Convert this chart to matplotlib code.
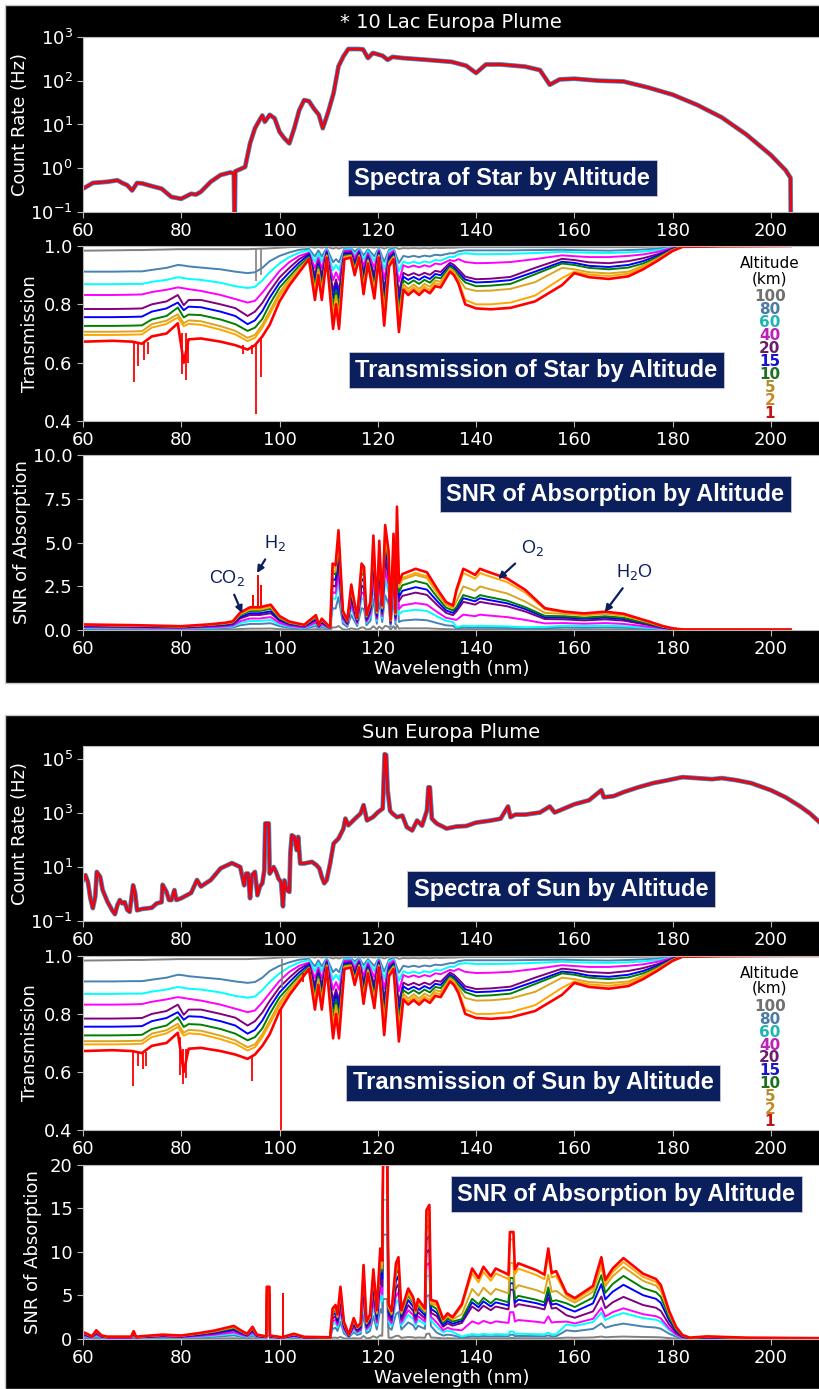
import matplotlib
matplotlib.use("Agg")
import matplotlib.pyplot as plt
from matplotlib.patches import Rectangle

# ---------------- data ----------------
ALT_KM = [100, 80, 60, 40, 20, 15, 10, 5, 2, 1]
LINE_COLORS = ['gray', 'steelblue', 'cyan', 'magenta', 'purple', 'blue',
               'green', 'goldenrod', 'orange', 'red']
TEXT_COLORS = ['#707070', '#4a7aa5', '#20b5b5', '#bb22bb', '#6b1f6b', '#1515d0',
               '#1f701f', '#b38b2a', '#c8871f', '#c01515']
NAVY = '#0b1f5c'

# star spectrum (count rate, Hz)
star_wl = [60, 62, 65, 67, 68, 69, 70, 71, 72, 74, 76, 78, 80, 82, 83, 84, 86, 88, 90, 90.7,
           90.8, 90.9, 91, 92, 93, 94, 95, 96, 96.5, 97, 98, 99, 100, 101, 102, 103, 104, 105, 106, 107,
           108, 108.8, 109.5, 110, 111, 112, 113, 114, 116, 117, 118, 119, 120, 121, 122, 123, 125, 130, 135, 138,
           140, 142, 145, 150, 153, 155, 157, 160, 165, 170, 175, 180, 185, 190, 195, 200, 203, 204, 204.05]
star_counts = [.34, .46, .49, .53, .46, .41, .31, .46, .45, .39, .34, .22, .20, .26, .25, .29, .49, .70, .80, .76,
               .09, .09, .85, .95, 1.07, 3.7, 8.2, 13, 16, 11.5, 16.6, 13.8, 6.8, 4.8, 3.7, 8.2, 21, 36, 34, 23,
               16.6, 8.2, 14, 21, 52, 213, 360, 530, 530, 520, 330, 430, 400, 370, 300, 350, 330, 300, 270, 220,
               150, 235, 235, 210, 175, 81, 107, 111, 100, 96, 70, 48, 28, 14.5, 5.9, 2.0, 0.9, 0.6, 0.09]

# sun spectrum (count rate, Hz)
sun_wl = [60, 60.5, 61, 61.5, 62, 62.5, 62.8, 63.5, 64, 65,
          66, 66.5, 67, 67.5, 68, 68.5, 69, 69.5, 70.2, 70.6,
          71, 72, 74, 75, 76, 76.2, 77, 77.5, 78, 78.6,
          79, 80, 82, 83.2, 84, 86, 88, 90.3, 92, 92.8,
          93.2, 93.6, 94.0, 94.4, 95, 95.5, 96, 96.5, 96.9, 97.1,
          97.8, 98, 98.8, 99.3, 99.8, 100.3, 100.7, 101, 101.5, 102,
          102.2, 102.5, 103, 103.5, 103.8, 104.2, 105, 106.6, 107.5, 108.1,
          108.6, 109.1, 109.6, 110.3, 111, 112, 113, 113.4, 114, 115.7,
          116.5, 117.1, 117.8, 119, 120.1, 121, 121.4, 121.7, 122, 122.5,
          123, 123.9, 125, 125.9, 127, 128, 129, 130, 130.3, 130.6,
          131, 132, 134, 136, 138, 140, 143, 145, 146.5, 147,
          148, 150, 153, 155, 156, 158, 160, 163, 165.5, 166,
          168, 170, 173, 176, 179, 182, 185, 188, 190, 193,
          196, 200, 203, 206, 208, 210]
sun_counts = [3.3, 5.0, 2.8, .7, .3, .8, 6.6, 4.3, 1.4, .51,
              .24, .18, .39, .6, .45, .5, .26, .22, 2.1, 1.1,
              .25, .28, .31, .45, .5, 2.2, 1.2, .6, .6, 1.4,
              .6, .7, 1.1, 3.3, 1.9, 3.3, 8.9, 14, 10, 2.1,
              5.7, 5.7, .7, 5.0, 6.6, .9, 1.9, 2.5, 7.6, 410,
              410, 5.7, 10, 6.6, 3.7, 2.8, .35, 3.2, 1.4, 1.2,
              32, 150, 130, 42, 130, 13.5, 13.5, 15.5, 11.8, 8.9,
              4.3, 2.5, 3.3, 13.5, 74, 113, 260, 620, 350, 700,
              950, 1950, 530, 700, 1100, 1450, 1.5e5, 1.4e5, 7000, 1200,
              950, 700, 800, 300, 225, 525, 340, 1230, 8900, 8900,
              615, 405, 265, 315, 330, 440, 525, 615, 1740, 700,
              870, 870, 1040, 1740, 1040, 1480, 2100, 2960, 6950, 3800,
              4200, 5900, 8900, 12700, 16300, 21200, 19500, 17800, 19500, 16300,
              12700, 6950, 3800, 1740, 950, 440]

# transmission, one row per altitude (100 km ... 1 km)
trans_wl = [60, 66, 70, 72, 74, 77, 79.3, 80.5, 81.5, 84,
            88, 91, 93.5, 95, 96.5, 98, 100, 102, 104, 106,
            107.2, 107.9, 108.6, 109.6, 110.9, 111.5, 112.1, 113.2, 114.5, 115.3,
            116.2, 117.1, 118, 119.3, 120.2, 121.3, 122.3, 123.2, 124.3, 125.2,
            126.2, 127.3, 128.4, 129.5, 130.6, 131.7, 132.8, 134.7, 135.5, 136.4,
            137.8, 140, 143, 147, 152, 157.5, 160, 163, 167, 171,
            174, 177, 180, 182, 190, 204, 210]
trans = [
    [.984, .985, .986, .986, .987, .988, .989, .989, .989, .989,
     .989, .989, .989, .990, .991, .992, .994, .996, .997, .998,
     .994, .997, .994, .998, .991, .995, .991, .998, .998, .996,
     .998, .994, .997, .994, .998, .991, .997, .998, .990, .993,
     .992, .993, .992, .993, .992, .994, .993, .994, .994, .995,
     .996, .996, .996, .996, .996, .996, .996, .996, .996, .996,
     .997, .998, .999, 1.0, 1.0, 1.0, 1.0],
    [.912, .912, .913, .913, .918, .925, .935, .933, .930, .926,
     .920, .912, .907, .910, .925, .948, .966, .978, .987, .990,
     .964, .985, .964, .993, .944, .955, .944, .992, .993, .981,
     .993, .968, .989, .965, .993, .946, .988, .992, .942, .966,
     .962, .966, .962, .967, .964, .970, .968, .975, .975, .982,
     .985, .985, .985, .985, .986, .987, .986, .985, .984, .986,
     .988, .991, .997, .999, 1.0, 1.0, 1.0],
    [.869, .869, .870, .870, .877, .884, .893, .890, .887, .884,
     .874, .862, .856, .860, .882, .910, .940, .962, .977, .986,
     .946, .975, .946, .990, .917, .935, .917, .988, .990, .972,
     .990, .953, .984, .948, .990, .920, .982, .988, .914, .947,
     .940, .946, .940, .947, .943, .952, .950, .963, .962, .972,
     .975, .972, .972, .973, .976, .980, .978, .977, .976, .978,
     .981, .986, .995, .999, 1.0, 1.0, 1.0],
    [.832, .832, .833, .834, .842, .850, .858, .855, .852, .846,
     .832, .818, .806, .812, .840, .872, .914, .945, .966, .977,
     .924, .960, .924, .985, .883, .910, .883, .983, .985, .960,
     .985, .932, .976, .926, .985, .887, .973, .983, .878, .934,
     .927, .933, .927, .934, .929, .940, .937, .952, .948, .955,
     .945, .941, .942, .945, .955, .968, .965, .962, .962, .966,
     .971, .980, .994, .999, 1.0, 1.0, 1.0],
    [.784, .784, .785, .786, .800, .810, .832, .797, .815, .815,
     .800, .787, .760, .775, .805, .845, .892, .925, .955, .974,
     .900, .950, .900, .980, .846, .885, .846, .977, .980, .947,
     .980, .911, .968, .903, .980, .852, .963, .977, .840, .908,
     .899, .907, .899, .908, .901, .915, .911, .943, .935, .920,
     .895, .886, .888, .894, .925, .956, .952, .944, .941, .948,
     .958, .972, .991, .999, 1.0, 1.0, 1.0],
    [.756, .756, .757, .758, .775, .786, .806, .780, .792, .790,
     .775, .760, .732, .745, .777, .823, .874, .910, .943, .970,
     .882, .940, .882, .975, .819, .870, .819, .972, .975, .937,
     .975, .895, .962, .885, .975, .826, .956, .972, .812, .895,
     .884, .894, .884, .896, .887, .904, .900, .935, .927, .910,
     .885, .875, .877, .883, .912, .946, .942, .932, .928, .935,
     .948, .967, .990, .998, 1.0, 1.0, 1.0],
    [.726, .726, .727, .728, .748, .760, .789, .755, .765, .763,
     .748, .732, .709, .720, .750, .800, .857, .895, .932, .962,
     .863, .930, .863, .970, .789, .850, .789, .967, .970, .926,
     .970, .878, .955, .866, .970, .798, .948, .967, .781, .882,
     .870, .882, .870, .884, .874, .893, .889, .929, .920, .900,
     .875, .862, .864, .870, .903, .940, .935, .925, .920, .926,
     .940, .962, .988, .998, 1.0, 1.0, 1.0],
    [.706, .706, .707, .708, .732, .744, .766, .735, .745, .742,
     .725, .709, .685, .695, .730, .777, .840, .885, .922, .958,
     .847, .920, .847, .967, .764, .830, .764, .963, .967, .917,
     .967, .863, .950, .851, .967, .774, .942, .963, .755, .870,
     .853, .868, .853, .870, .860, .882, .877, .923, .913, .890,
     .855, .846, .847, .853, .876, .925, .920, .910, .906, .912,
     .932, .957, .986, .998, .999, 1.0, 1.0],
    [.695, .695, .696, .697, .720, .733, .755, .725, .733, .730,
     .713, .697, .674, .685, .720, .766, .829, .875, .915, .955,
     .834, .910, .834, .964, .744, .815, .744, .960, .964, .910,
     .964, .851, .946, .838, .964, .754, .936, .960, .734, .860,
     .843, .858, .843, .860, .849, .872, .868, .918, .907, .880,
     .815, .800, .800, .806, .830, .890, .912, .902, .897, .905,
     .927, .954, .985, .997, .999, 1.0, 1.0],
    [.672, .675, .672, .665, .690, .700, .735, .600, .680, .683,
     .672, .660, .645, .660, .690, .730, .810, .865, .910, .955,
     .815, .900, .815, .960, .716, .800, .716, .955, .960, .900,
     .960, .835, .940, .820, .960, .727, .930, .955, .705, .850,
     .832, .848, .832, .850, .838, .862, .858, .912, .900, .872,
     .800, .786, .783, .788, .810, .866, .907, .893, .887, .896,
     .920, .950, .983, .997, .999, 1.0, 1.0],
]
# narrow absorption spikes of the 1 km (red) and 100 km (gray) curves
star_red_spk_wl = [70.3, 71.2, 72.5, 73.2, 80.2, 80.9, 81.4, 92.6, 94.4, 95.3, 96.2]
star_red_spk_lo = [.535, .59, .61, .63, .56, .54, .60, .63, .63, .425, .55]
star_red_spk_hi = [.67, .67, .67, .67, .70, .70, .68, .66, .66, .66, .68]
star_gray_spk_wl = [95.3, 96.2]
star_gray_spk_lo = [.88, .90]
sun_red_spk_wl = [70.1, 71.2, 72.2, 72.9, 79.7, 80.3, 81.0, 94.3, 100.4, 104.8]
sun_red_spk_lo = [.55, .62, .61, .62, .59, .56, .58, .57, .40, .91]
sun_red_spk_hi = [.67, .67, .67, .67, .72, .68, .68, .66, .82, .94]
sun_gray_spk_wl = [100.5]
sun_gray_spk_lo = [.89]

# SNR of absorption, star
star_snr_wl = [60, 70, 80, 86, 89, 90.5, 92, 94, 96, 98.2,
               100, 102, 105, 107.4, 108, 108.6, 110.3, 110.8, 111.4, 112,
               112.9, 113.8, 114.6, 115.8, 116.7, 117.2, 117.7, 118.5, 119.1, 119.8,
               120.3, 120.9, 121.5, 122.2, 122.6, 123.2, 123.6, 123.9, 124.3, 125,
               127.7, 130, 132.2, 133.9, 135.3, 136, 137.4, 138.5, 139.8, 140.8,
               142.2, 146.3, 150, 154, 158, 162, 166.3, 170, 172, 175.3,
               178, 180, 182, 204]
star_snr = [
    [.02, .02, .01, .02, .03, .03, .06, .08, .08, .09,
     .05, .03, .02, .05, .02, .04, .01, .15, .15, .23,
     .04, .02, .1, .03, .15, .14, .03, .06, .22, .04,
     .2, .06, .24, .18, .02, .22, .04, .28, .08, .1,
     .1, .1, .07, .05, .04, .02, .04, .03, .03, .04,
     .03, .03, .02, .03, .03, .03, .03, .03, .02, .01,
     .01, .01, .01, .01],
    [.09, .08, .06, .09, .11, .14, .27, .35, .35, .39,
     .22, .13, .08, .23, .08, .18, .05, 1.25, 1.22, 1.88,
     .36, .18, .86, .23, 1.25, 1.19, .28, .53, 1.78, .36,
     1.68, .46, 1.98, 1.49, .2, 1.82, .33, 2.33, .46, .54,
     .6, .56, .39, .27, .24, .09, .14, .13, .13, .14,
     .13, .12, .09, .1, .15, .13, .15, .13, .11, .07,
     .03, .01, .02, .02],
    [.13, .11, .09, .13, .17, .2, .4, .52, .52, .58,
     .32, .19, .12, .34, .12, .26, .07, 1.82, 1.78, 2.74,
     .53, .26, 1.25, .34, 1.82, 1.73, .41, .77, 2.59, .53,
     2.45, .67, 2.88, 2.16, .29, 2.64, .48, 3.38, .89, 1.06,
     1.16, 1.09, .76, .53, .46, .16, .25, .23, .22, .25,
     .23, .21, .16, .18, .25, .23, .25, .22, .18, .12,
     .06, .02, .02, .02],
    [.16, .14, .11, .17, .21, .26, .51, .66, .66, .74,
     .41, .24, .15, .43, .15, .33, .09, 2.17, 2.11, 3.25,
     .63, .31, 1.48, .4, 2.17, 2.05, .48, .91, 3.08, .63,
     2.91, .8, 3.42, 2.57, .34, 3.14, .57, 4.02, 1.19, 1.41,
     1.54, 1.45, 1.01, .7, .62, .58, .88, .84, .79, .88,
     .84, .74, .58, .38, .4, .36, .4, .35, .29, .18,
     .09, .04, .02, .02],
    [.21, .18, .15, .22, .28, .33, .66, .86, .86, .96,
     .53, .32, .2, .56, .2, .43, .1, 2.55, 2.48, 3.82,
     .74, .37, 1.74, .47, 2.55, 2.41, .57, 1.07, 3.62, .74,
     3.42, .94, 4.02, 3.02, .4, 3.69, .67, 4.72, 1.65, 1.95,
     2.14, 2.01, 1.4, .98, .85, 1.06, 1.61, 1.54, 1.45, 1.61,
     1.54, 1.36, 1.06, .63, .61, .55, .61, .54, .44, .28,
     .13, .06, .02, .02],
    [.24, .21, .16, .24, .31, .37, .74, .96, .96, 1.07,
     .59, .36, .22, .63, .22, .48, .12, 2.93, 2.85, 4.39,
     .85, .42, 2.0, .54, 2.93, 2.77, .65, 1.23, 4.16, .85,
     3.93, 1.08, 4.62, 3.47, .46, 4.24, .77, 5.43, 1.89, 2.24,
     2.45, 2.31, 1.61, 1.12, .98, 1.2, 1.82, 1.74, 1.64, 1.82,
     1.74, 1.53, 1.2, .73, .71, .65, .71, .63, .52, .33,
     .16, .07, .02, .02],
    [.27, .24, .18, .28, .35, .42, .84, 1.09, 1.09, 1.22,
     .67, .4, .25, .71, .25, .55, .13, 3.27, 3.18, 4.9,
     .95, .47, 2.24, .6, 3.27, 3.1, .73, 1.38, 4.64, .95,
     4.39, 1.2, 5.16, 3.87, .52, 4.73, .86, 6.06, 2.16, 2.56,
     2.8, 2.64, 1.84, 1.28, 1.12, 1.31, 2.0, 1.91, 1.8, 2.0,
     1.91, 1.68, 1.31, .81, .79, .71, .79, .7, .57, .36,
     .17, .08, .02, .02],
    [.29, .25, .2, .3, .38, .45, .9, 1.17, 1.17, 1.31,
     .72, .43, .27, .77, .27, .59, .14, 3.42, 3.33, 5.13,
     .99, .5, 2.34, .63, 3.42, 3.24, .77, 1.44, 4.86, .99,
     4.59, 1.26, 5.4, 4.05, .54, 4.95, .9, 6.35, 2.43, 2.88,
     3.15, 2.97, 2.07, 1.44, 1.26, 1.63, 2.49, 2.38, 2.24, 2.49,
     2.38, 2.09, 1.63, .98, .92, .84, .92, .82, .67, .42,
     .2, .09, .03, .02],
    [.3, .26, .21, .31, .39, .47, .94, 1.22, 1.22, 1.36,
     .75, .45, .28, .8, .28, .61, .14, 3.61, 3.52, 5.42,
     1.05, .52, 2.47, .67, 3.61, 3.42, .81, 1.52, 5.13, 1.05,
     4.85, 1.33, 5.7, 4.28, .57, 5.23, .95, 6.7, 2.51, 2.98,
     3.26, 3.07, 2.14, 1.49, 1.3, 2.14, 3.26, 3.12, 2.93, 3.26,
     3.12, 2.74, 2.14, 1.18, 1.0, .9, 1.0, .88, .72, .46,
     .22, .1, .03, .02],
    [.32, .28, .22, .33, .42, .5, 1.0, 1.3, 1.3, 1.45,
     .8, .48, .3, .85, .3, .65, .15, 3.8, 3.7, 5.7,
     1.1, .55, 2.6, .7, 3.8, 3.6, .85, 1.6, 5.4, 1.1,
     5.1, 1.4, 6.0, 4.5, .6, 5.5, 1.0, 7.05, 2.7, 3.2,
     3.5, 3.3, 2.3, 1.6, 1.4, 2.3, 3.5, 3.35, 3.15, 3.5,
     3.35, 2.95, 2.3, 1.25, 1.05, .95, 1.05, .93, .76, .48,
     .23, .1, .03, .02],
]
star_snr_spk_wl = [94.6, 95.7, 96.3]
star_snr_spk_top = [2.0, 3.14, 2.57]

# SNR of absorption, sun
sun_snr_wl = [60, 61, 61.8, 62.7, 63.8, 65, 69.8, 70.3, 70.8, 76.2,
              80, 83.3, 86.7, 88.7, 90.7, 92.1, 93.4, 94.5, 95.4, 97.3,
              97.4, 97.95, 98.05, 100.5, 102.9, 105, 110.3, 110.8, 111.4, 111.8,
              112.4, 113.1, 114.1, 115.1, 115.8, 116.5, 117.1, 117.7, 118.4, 119.1,
              119.8, 120.5, 120.9, 121.1, 121.9, 122.2, 122.8, 123.7, 124.2, 124.8,
              126.2, 127.2, 127.7, 128.2, 129.6, 129.9, 130.5, 130.8, 132, 133.3,
              134.2, 135.2, 137.1, 139.2, 140.5, 141.5, 143, 144, 146.6, 146.9,
              147.6, 147.9, 148.6, 152.3, 153.9, 154.7, 155.4, 156.3, 158.4, 160.1,
              163.8, 165.5, 166.3, 167.8, 170, 172, 174, 176.6, 177.6, 179.3,
              180.7, 182, 183.5, 187, 195, 210]
sun_snr = [
    [.05, .03, .02, .06, .02, .02, .02, .05, .02, .03,
     .02, .04, .06, .07, .09, .06, .04, .08, .03, .02,
     .36, .36, .02, .01, .04, .02, .01, .14, .16, .11,
     .24, .08, .02, .1, .06, .07, .34, .08, .11, .32,
     .13, .42, .36, 4.6, 4.6, .16, .13, .35, .38, .13,
     .23, .19, .13, .18, .14, .59, .62, .18, .13, .07,
     .09, .08, .04, .08, .07, .08, .07, .08, .07, .12,
     .12, .08, .09, .08, .07, .1, .08, .08, .16, .14,
     .18, .28, .2, .24, .28, .25, .23, .21, .19, .1,
     .04, .01, .01, .01, .01, .01],
    [.22, .15, .08, .27, .11, .07, .07, .24, .07, .14,
     .11, .18, .26, .33, .41, .27, .16, .38, .14, .08,
     1.62, 1.62, .11, .05, .16, .07, .07, 1.16, 1.29, .92,
     1.98, .66, .17, .79, .46, .59, 2.81, .66, .92, 2.64,
     1.09, 3.43, 2.97, 12, 12, 1.32, 1.06, 2.87, 3.1, 1.09,
     1.91, 1.58, 1.09, 1.52, 1.16, 4.88, 5.08, 1.49, .73, .39,
     .5, .43, .16, .32, .28, .33, .29, .32, .3, .49,
     .49, .32, .35, .32, .3, .42, .3, .31, 1.0, .89,
     1.16, 1.79, 1.29, 1.54, 1.77, 1.6, 1.43, 1.31, 1.18, .61,
     .27, .09, .03, .05, .03, .02],
    [.32, .22, .12, .4, .16, .11, .11, .36, .11, .2,
     .16, .26, .38, .49, .6, .4, .24, .56, .2, .12,
     2.4, 2.4, .16, .08, .24, .1, .1, 1.68, 1.87, 1.34,
     2.88, .96, .24, 1.15, .67, .86, 4.08, .96, 1.34, 3.84,
     1.58, 4.99, 4.32, 16, 16, 1.92, 1.54, 4.18, 4.51, 1.58,
     2.78, 2.3, 1.58, 2.21, 1.68, 7.1, 7.39, 2.16, 1.42, .76,
     .97, .83, .28, .57, .49, .58, .5, .57, .52, .86,
     .86, .56, .61, .55, .52, .73, .53, .55, 1.68, 1.5,
     1.95, 3.01, 2.18, 2.59, 2.98, 2.69, 2.4, 2.21, 1.98, 1.02,
     .45, .15, .05, .08, .05, .03],
    [.41, .28, .15, .51, .2, .14, .14, .46, .14, .26,
     .2, .33, .49, .63, .77, .51, .31, .71, .26, .15,
     3.06, 3.06, .2, .1, .31, .13, .11, 2.0, 2.22, 1.6,
     3.42, 1.14, .29, 1.37, .8, 1.03, 4.85, 1.14, 1.6, 4.56,
     1.88, 5.93, 5.13, 22, 22, 2.28, 1.82, 4.96, 5.36, 1.88,
     3.31, 2.74, 1.88, 2.62, 2.0, 8.44, 8.78, 2.57, 1.89, 1.01,
     1.3, 1.1, 1.0, 2.03, 1.75, 2.08, 1.8, 2.03, 1.85, 3.08,
     3.08, 2.0, 2.18, 1.98, 1.85, 2.6, 1.9, 1.95, 2.0, 1.79,
     2.32, 3.57, 2.58, 3.08, 3.53, 3.19, 2.85, 2.62, 2.36, 1.22,
     .53, .17, .06, .1, .06, .04],
    [.53, .36, .2, .66, .26, .18, .18, .59, .18, .33,
     .26, .43, .63, .81, .99, .66, .4, .92, .33, .2,
     3.96, 3.96, .26, .13, .4, .17, .13, 2.35, 2.61, 1.88,
     4.02, 1.34, .34, 1.61, .94, 1.21, 5.7, 1.34, 1.88, 5.36,
     2.21, 6.97, 6.03, 22, 22, 2.68, 2.14, 5.83, 6.3, 2.21,
     3.89, 3.22, 2.21, 3.08, 2.35, 9.92, 10.3, 3.02, 2.62, 1.4,
     1.8, 1.53, 1.84, 3.73, 3.22, 3.82, 3.31, 3.73, 3.4, 5.66,
     5.66, 3.68, 4.0, 3.63, 3.4, 4.78, 3.5, 3.59, 2.73, 2.44,
     3.17, 4.89, 3.54, 4.21, 4.84, 4.37, 3.9, 3.59, 3.22, 1.66,
     .73, .24, .08, .14, .08, .05],
    [.59, .41, .22, .74, .3, .2, .2, .67, .2, .37,
     .3, .48, .71, .91, 1.11, .74, .44, 1.04, .37, .22,
     4.44, 4.44, .3, .15, .44, .19, .15, 2.7, 3.0, 2.16,
     4.62, 1.54, .39, 1.85, 1.08, 1.39, 6.55, 1.54, 2.16, 6.16,
     2.54, 8.01, 6.93, 22, 22, 3.08, 2.46, 6.7, 7.24, 2.54,
     4.47, 3.7, 2.54, 3.54, 2.7, 11.4, 11.9, 3.47, 3.01, 1.61,
     2.07, 1.75, 2.08, 4.21, 3.64, 4.32, 3.74, 4.21, 3.85, 6.4,
     6.4, 4.16, 4.52, 4.11, 3.85, 5.41, 3.95, 4.06, 3.52, 3.15,
     4.09, 6.3, 4.56, 5.43, 6.23, 5.63, 5.03, 4.62, 4.15, 2.14,
     .94, .31, .1, .18, .1, .07],
    [.67, .46, .25, .84, .34, .23, .23, .76, .23, .42,
     .34, .55, .81, 1.03, 1.26, .84, .5, 1.18, .42, .25,
     5.04, 5.04, .34, .17, .5, .21, .17, 3.01, 3.35, 2.41,
     5.16, 1.72, .43, 2.06, 1.2, 1.55, 7.31, 1.72, 2.41, 6.88,
     2.84, 8.94, 7.74, 22, 22, 3.44, 2.75, 7.48, 8.08, 2.84,
     4.99, 4.13, 2.84, 3.96, 3.01, 12.7, 13.2, 3.87, 3.44, 1.84,
     2.36, 2.0, 2.28, 4.62, 3.99, 4.73, 4.1, 4.62, 4.22, 7.01,
     7.01, 4.56, 4.96, 4.5, 4.22, 5.93, 4.33, 4.45, 4.1, 3.67,
     4.76, 7.33, 5.3, 6.32, 7.25, 6.55, 5.85, 5.38, 4.84, 2.5,
     1.09, .36, .12, .22, .12, .08],
    [.72, .5, .27, .9, .36, .24, .24, .81, .24, .45,
     .36, .59, .86, 1.11, 1.35, .9, .54, 1.26, .45, .27,
     5.4, 5.4, .36, .18, .54, .23, .18, 3.15, 3.51, 2.52,
     5.4, 1.8, .45, 2.16, 1.26, 1.62, 7.65, 1.8, 2.52, 7.2,
     2.97, 9.36, 8.1, 22, 22, 3.6, 2.88, 7.83, 8.46, 2.97,
     5.22, 4.32, 2.97, 4.14, 3.15, 13.3, 13.9, 4.05, 3.87, 2.07,
     2.66, 2.25, 2.84, 5.75, 4.97, 5.89, 5.11, 5.75, 5.25, 8.73,
     8.73, 5.68, 6.18, 5.61, 5.25, 7.38, 5.4, 5.54, 4.67, 4.18,
     5.43, 8.37, 6.05, 7.21, 8.28, 7.48, 6.68, 6.14, 5.52, 2.85,
     1.25, .41, .13, .25, .13, .09],
    [.75, .52, .28, .94, .38, .25, .25, .85, .25, .47,
     .38, .61, .9, 1.16, 1.41, .94, .56, 1.32, .47, .28,
     5.64, 5.64, .38, .19, .56, .24, .19, 3.33, 3.71, 2.66,
     5.7, 1.9, .48, 2.28, 1.33, 1.71, 8.08, 1.9, 2.66, 7.6,
     3.14, 9.88, 8.55, 22, 22, 3.8, 3.04, 8.27, 8.93, 3.14,
     5.51, 4.56, 3.14, 4.37, 3.33, 14.1, 14.6, 4.28, 4.0, 2.14,
     2.74, 2.33, 3.72, 7.53, 6.51, 7.72, 6.7, 7.53, 6.88, 11.44,
     11.44, 7.44, 8.09, 7.35, 6.88, 9.67, 7.07, 7.25, 4.99, 4.47,
     5.8, 8.93, 6.46, 7.7, 8.84, 7.98, 7.13, 6.56, 5.89, 3.04,
     1.33, .44, .14, .28, .14, .1],
    [.8, .55, .3, 1.0, .4, .27, .27, .9, .27, .5,
     .4, .65, .96, 1.23, 1.5, 1.0, .6, 1.4, .5, .3,
     6.0, 6.0, .4, .2, .6, .25, .2, 3.5, 3.9, 2.8,
     6.0, 2.0, .5, 2.4, 1.4, 1.8, 8.5, 2.0, 2.8, 8.0,
     3.3, 10.4, 9.0, 22, 22, 4.0, 3.2, 8.7, 9.4, 3.3,
     5.8, 4.8, 3.3, 4.6, 3.5, 14.8, 15.4, 4.5, 4.3, 2.3,
     2.95, 2.5, 4.0, 8.1, 7.0, 8.3, 7.2, 8.1, 7.4, 12.3,
     12.3, 8.0, 8.7, 7.9, 7.4, 10.4, 7.6, 7.8, 5.25, 4.7,
     6.1, 9.4, 6.8, 8.1, 9.3, 8.4, 7.5, 6.9, 6.2, 3.2,
     1.4, .46, .15, .3, .15, .1],
]
sun_snr_spk_wl = [100.7]
sun_snr_spk_top = [5.25]

# molecule labels on the star SNR panel
tag_labels = ['CO$_2$', 'H$_2$', 'O$_2$', 'H$_2$O']


def style_axes(ax, ylabel, label_x, xlabel=None):
    ax.set_facecolor('white')
    for s in ax.spines.values():
        s.set_color('#b8b8b8')
    ax.tick_params(color='#b8b8b8', labelcolor='white', labelsize=13, length=4)
    ax.set_xlim(60, 210)
    ax.set_xticks(range(60, 201, 20))
    ax.set_ylabel(ylabel, color='white', fontsize=13)
    ax.yaxis.set_label_coords(label_x, 0.5)
    if xlabel:
        ax.set_xlabel(xlabel, color='white', fontsize=13, labelpad=1)


def label_box(ax, x, y, text):
    ax.text(x, y, text, transform=ax.transAxes, ha='center', va='center',
            color='white', fontsize=17, fontweight='bold', family='Liberation Sans',
            bbox=dict(boxstyle='square,pad=0.28', fc=NAVY, ec='#c8c8d8', lw=0.6),
            zorder=30)


def plot_xy(ax, x, y, **kw):
    n = min(len(x), len(y))
    ax.plot(x[:n], y[:n], **kw)


def plot_spectrum(ax, wl, counts):
    plot_xy(ax, wl, counts, color='gray', lw=3.4)
    plot_xy(ax, wl, counts, color='steelblue', lw=2.6)
    plot_xy(ax, wl, counts, color='blue', lw=2.1, alpha=0.5)
    plot_xy(ax, wl, counts, color='red', lw=1.7)


def plot_family(ax, wl, rows):
    for i, row in enumerate(rows):
        plot_xy(ax, wl, row, color=LINE_COLORS[i], lw=1.9 if i == len(rows) - 1 else 1.4)


def altitude_key(ax):
    ax.text(0.932, 0.857, 'Altitude\n(km)', transform=ax.transAxes, ha='center',
            va='center', fontsize=11, color='black', linespacing=1.0, zorder=30)
    for i, alt in enumerate(ALT_KM):
        ax.text(0.932, 0.709 - i * 0.0737, str(alt), transform=ax.transAxes,
                ha='center', va='center', fontsize=11, fontweight='bold',
                color=TEXT_COLORS[i], zorder=30)


fig = plt.figure(figsize=(8.2, 13.89), dpi=100)
fig.patch.set_facecolor('white')
H = 1389.0
fig.add_artist(Rectangle((5 / 820, 1 - 683 / H), 815 / 820, 678 / H, transform=fig.transFigure,
                         fc='black', ec='#c8c8c8', lw=1.0, zorder=-5))
fig.add_artist(Rectangle((5 / 820, 0), 815 / 820, 674 / H, transform=fig.transFigure,
                         fc='black', ec='#c8c8c8', lw=1.0, zorder=-5))
fig.text(0.55, 1 - 22 / H, '* 10 Lac Europa Plume', color='white', fontsize=14,
         ha='center', va='center')
fig.text(0.55, 1 - 732 / H, 'Sun Europa Plume', color='white', fontsize=14,
         ha='center', va='center')

L, W = 83 / 820, 737 / 820
ax1 = fig.add_axes([L, 0.8474, W, 0.126])
ax2 = fig.add_axes([L, 0.6969, W, 0.126])
ax3 = fig.add_axes([L, 0.5464, W, 0.126])
ax4 = fig.add_axes([L, 0.3369, W, 0.126])
ax5 = fig.add_axes([L, 0.1865, W, 0.1253])
ax6 = fig.add_axes([L, 0.0360, W, 0.1253])

# ---- star: spectrum ----
ax1.set_yscale('log')
plot_spectrum(ax1, star_wl, star_counts)
ax1.set_ylim(0.1, 1000)
ax1.set_yticks([0.1, 1, 10, 100, 1000])
ax1.minorticks_off()
style_axes(ax1, 'Count Rate (Hz)', -0.073)
label_box(ax1, 0.569, 0.194, 'Spectra of Star by Altitude')

# ---- star: transmission ----
n_star = trans_wl.index(204) + 1
plot_family(ax2, trans_wl[:n_star], [r[:n_star] for r in trans])
ax2.vlines(star_gray_spk_wl, star_gray_spk_lo, 0.99, colors='gray', lw=1.2)
ax2.vlines(star_red_spk_wl, star_red_spk_lo, star_red_spk_hi, colors='red', lw=1.3)
ax2.set_ylim(0.4, 1.0)
ax2.set_yticks([0.4, 0.6, 0.8, 1.0])
style_axes(ax2, 'Transmission', -0.06)
label_box(ax2, 0.615, 0.29, 'Transmission of Star by Altitude')
altitude_key(ax2)

# ---- star: SNR ----
plot_family(ax3, star_snr_wl, star_snr)
ax3.vlines(star_snr_spk_wl, 1.3, star_snr_spk_top, colors='red', lw=1.4)
ax3.set_ylim(0, 10)
ax3.set_yticks([0, 2.5, 5, 7.5, 10])
style_axes(ax3, 'SNR of Absorption', -0.071, 'Wavelength (nm)')
label_box(ax3, 0.722, 0.777, 'SNR of Absorption by Altitude')
tag_text_xy = [(89.3, 2.97), (99.1, 4.97), (151.4, 4.69), (172.3, 3.31)]
tag_tip_xy = [(92.4, 0.97), (95.4, 3.26), (144.5, 2.91), (166.2, 1.03)]
for lab, txy, pxy in zip(tag_labels, tag_text_xy, tag_tip_xy):
    ax3.annotate(lab, xy=pxy, xytext=txy, ha='center', va='center', fontsize=13,
                 color=NAVY, family='Liberation Sans', zorder=30,
                 arrowprops=dict(arrowstyle='-|>', color=NAVY, lw=1.6,
                                 mutation_scale=10, shrinkA=3, shrinkB=0))

# ---- sun: spectrum ----
ax4.set_yscale('log')
plot_spectrum(ax4, sun_wl, sun_counts)
ax4.set_ylim(0.1, 3e5)
ax4.set_yticks([0.1, 10, 1000, 1e5])
ax4.minorticks_off()
style_axes(ax4, 'Count Rate (Hz)', -0.073)
label_box(ax4, 0.649, 0.183, 'Spectra of Sun by Altitude')

# ---- sun: transmission ----
plot_family(ax5, trans_wl, trans)
ax5.vlines(sun_gray_spk_wl, sun_gray_spk_lo, 0.99, colors='gray', lw=1.2)
ax5.vlines(sun_red_spk_wl, sun_red_spk_lo, sun_red_spk_hi, colors='red', lw=1.3)
ax5.set_ylim(0.4, 1.0)
ax5.set_yticks([0.4, 0.6, 0.8, 1.0])
style_axes(ax5, 'Transmission', -0.06)
label_box(ax5, 0.611, 0.27, 'Transmission of Sun by Altitude')
altitude_key(ax5)

# ---- sun: SNR ----
plot_family(ax6, sun_snr_wl, sun_snr)
ax6.vlines(sun_snr_spk_wl, 0.2, sun_snr_spk_top, colors='red', lw=1.4)
ax6.set_ylim(0, 20)
ax6.set_yticks([0, 5, 10, 15, 20])
style_axes(ax6, 'SNR of Absorption', -0.056, 'Wavelength (nm)')
label_box(ax6, 0.737, 0.833, 'SNR of Absorption by Altitude')

fig.savefig('out.png', dpi=100)
